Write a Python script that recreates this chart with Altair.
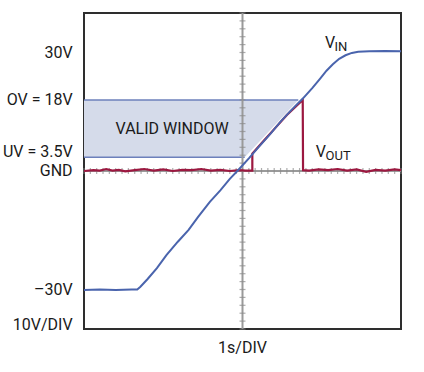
import altair as alt
import pandas as pd
import numpy as np

# ---- data (x in divisions of 1 s, y in volts) ----
vin_t = [0, 0.5, 1.0, 1.5, 1.68, 1.78, 2.0, 2.3, 2.6, 2.96, 3.3, 3.6, 3.97, 4.3, 4.6,
         4.86, 5.2, 5.5, 5.9, 6.2, 6.5, 6.91, 7.2, 7.45, 7.65, 7.85, 8.05, 8.25, 8.45,
         8.65, 9.0, 9.5, 10]
vin_v = [-30.1, -30.0, -30.1, -30.0, -30.0, -29.3, -27.4, -24.6, -21.3, -17.9, -14.9,
         -11.6, -7.8, -4.9, -2.0, 0.2, 3.2, 6.0, 9.6, 12.5, 15.1, 18.4, 21.0, 23.4,
         25.4, 27.0, 28.4, 29.3, 29.9, 30.2, 30.3, 30.4, 30.3]

vout_t = [0, 0.3, 0.5, 0.7, 0.9, 1.1, 1.3, 1.6, 1.9, 2.2, 2.5, 2.8, 3.1, 3.4, 3.7,
          4.0, 4.3, 4.6, 4.9, 5.1, 5.31, 5.31, 5.6, 6.0, 6.4, 6.9, 6.91, 7.1, 7.4,
          7.7, 8.0, 8.3, 8.6, 8.9, 9.2, 9.5, 9.8, 10]
vout_v = [0.0, 0.2, 0.1, 0.5, 0.1, 0.3, -0.1, 0.2, 0.5, 0.1, 0.4, 0.0, 0.3, 0.2, 0.5,
          0.1, 0.3, 0.0, 0.2, 0.1, 0.1, 4.4, 7.0, 10.6, 14.2, 18.0, 0.2, 0.1, 0.4,
          0.2, 0.5, 0.1, 0.4, -0.2, 0.3, 0.1, 0.4, 0.2]

win_t = [0, 5.07, 6.76]
win_low = [3.5, 3.5, 18]
win_high = [18, 18, 18]

left_labels = ["30V", "OV = 18V", "GND", "\u201330V", "10V/DIV"]
left_values = [30, 18, 0, -30, -38.9]

BLUE = "#4a64ad"
RED = "#9c1840"
FONT = "Roboto"
FS = 16
TXT = "#1a1a1a"

W, H = 317, 316
xs = alt.Scale(domain=[0, 10], nice=False, zero=False)
ys = alt.Scale(domain=[-40, 40], nice=False, zero=False)

vin_df = pd.DataFrame({"t": vin_t, "v": vin_v, "i": range(len(vin_t))})
vout_df = pd.DataFrame({"t": vout_t, "v": vout_v, "i": range(len(vout_t))})
win_df = pd.DataFrame({"t": win_t, "lo": win_low, "hi": win_high})

# grid layer
grid_df = pd.DataFrame({"t": [0], "v": [0]})
grid = alt.Chart(grid_df).mark_point(opacity=0).encode(
    x=alt.X("t:Q", scale=xs, axis=alt.Axis(values=[1, 2, 3, 4, 6, 7, 8, 9], labels=False,
            ticks=False, domain=False, title=None, grid=True, gridColor="#a8a8a8",
            gridDash=[1, 3], gridWidth=1)),
    y=alt.Y("v:Q", scale=ys, axis=alt.Axis(values=[-30, -20, -10, 10, 20, 30], labels=False,
            ticks=False, domain=False, title=None, grid=True, gridColor="#a8a8a8",
            gridDash=[1, 3], gridWidth=1)),
)

# shaded valid window
window = alt.Chart(win_df).mark_area(color="#d5dbea", opacity=1).encode(
    x=alt.X("t:Q", scale=xs, axis=None),
    y=alt.Y("lo:Q", scale=ys, axis=None),
    y2="hi:Q",
)
edges_df = pd.DataFrame({"t0": [0, 0], "t1": [win_t[2], win_t[1]], "v": [18, 3.5]})
edges = alt.Chart(edges_df).mark_rule(color="#6d80bb", strokeWidth=1.5).encode(
    x=alt.X("t0:Q", scale=xs, axis=None), x2="t1:Q",
    y=alt.Y("v:Q", scale=ys, axis=None),
)

# center crosshair with minor ticks
cross_df = pd.DataFrame({"t0": [5, 0], "t1": [5, 10], "v0": [-40, 0], "v1": [40, 0]})
cross = alt.Chart(cross_df).mark_rule(color="#9a9a9a", strokeWidth=2).encode(
    x=alt.X("t0:Q", scale=xs, axis=None), x2="t1:Q",
    y=alt.Y("v0:Q", scale=ys, axis=None), y2="v1:Q",
)
vt_df = pd.DataFrame({"t": 5, "v": np.arange(-40, 40.01, 2)})
vticks = alt.Chart(vt_df).mark_tick(orient="horizontal", size=6, thickness=1.2,
                                    color="#8a8a8a").encode(
    x=alt.X("t:Q", scale=xs, axis=None), y=alt.Y("v:Q", scale=ys, axis=None))
ht_df = pd.DataFrame({"t": np.arange(0, 10.01, 0.2), "v": 0})
hticks = alt.Chart(ht_df).mark_tick(orient="vertical", size=6, thickness=1.2,
                                    color="#8a8a8a").encode(
    x=alt.X("t:Q", scale=xs, axis=None), y=alt.Y("v:Q", scale=ys, axis=None))

# traces
vout = alt.Chart(vout_df).mark_line(color=RED, strokeWidth=2.2).encode(
    x=alt.X("t:Q", scale=xs, axis=None), y=alt.Y("v:Q", scale=ys, axis=None), order="i:Q")
vin = alt.Chart(vin_df).mark_line(color=BLUE, strokeWidth=2).encode(
    x=alt.X("t:Q", scale=xs, axis=None), y=alt.Y("v:Q", scale=ys, axis=None), order="i:Q")

# texts
lab_df = pd.DataFrame({"txt": left_labels, "v": left_values, "t": -0.36})
labels = alt.Chart(lab_df).mark_text(align="right", baseline="middle", font=FONT,
                                     fontSize=FS, color=TXT, clip=False).encode(
    x=alt.X("t:Q", scale=xs, axis=None), y=alt.Y("v:Q", scale=ys, axis=None), text="txt:N")
uv = alt.Chart(pd.DataFrame({"txt": ["UV = 3.5V"], "v": [3.5], "t": [-0.36]})).mark_text(
    align="right", baseline="middle", font=FONT, fontSize=FS, color=TXT, dy=-5).encode(
    x=alt.X("t:Q", scale=xs, axis=None), y=alt.Y("v:Q", scale=ys, axis=None), text="txt:N")
bottom = alt.Chart(pd.DataFrame({"txt": ["1s/DIV"], "v": [-44.8], "t": [5]})).mark_text(
    align="center", baseline="middle", font=FONT, fontSize=FS, color=TXT).encode(
    x=alt.X("t:Q", scale=xs, axis=None), y=alt.Y("v:Q", scale=ys, axis=None), text="txt:N")
valid = alt.Chart(pd.DataFrame({"txt": ["VALID WINDOW"], "v": [10.6], "t": [2.78]})).mark_text(
    align="center", baseline="middle", font=FONT, fontSize=FS, color=TXT).encode(
    x=alt.X("t:Q", scale=xs, axis=None), y=alt.Y("v:Q", scale=ys, axis=None), text="txt:N")

sub_df = pd.DataFrame({
    "txt": ["V", "IN", "V", "OUT"],
    "t": [7.6, 7.9, 7.31, 7.62],
    "v": [31.1, 30.3, 3.5, 2.8],
    "fs": [FS, 13, FS, 13],
})
big = alt.Chart(sub_df[sub_df.fs > 14]).mark_text(
    align="left", baseline="alphabetic", font=FONT, fontSize=FS, color=TXT).encode(
    x=alt.X("t:Q", scale=xs, axis=None), y=alt.Y("v:Q", scale=ys, axis=None), text="txt:N")
small = alt.Chart(sub_df[sub_df.fs < 14]).mark_text(
    align="left", baseline="alphabetic", font=FONT, fontSize=13, color=TXT).encode(
    x=alt.X("t:Q", scale=xs, axis=None), y=alt.Y("v:Q", scale=ys, axis=None), text="txt:N")

chart = alt.layer(
    grid, window, edges, cross, vticks, hticks, vout, vin, labels, uv, bottom, valid, big, small
).properties(
    width=W, height=H,
    autosize=alt.AutoSizeParams(type="none"),
    padding={"left": 84, "top": 13, "right": 23, "bottom": 43},
    background="white",
).configure_view(stroke="#2e2e2e", strokeWidth=2)

chart.save("out.html", embed_options={"renderer": "svg", "actions": False})
